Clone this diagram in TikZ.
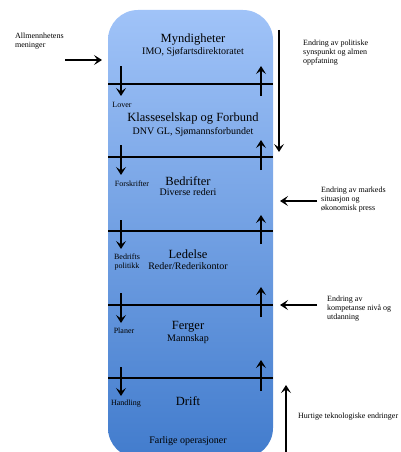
\documentclass[tikz,border=0pt]{standalone}
\usepackage{fontspec}
\setmainfont{Liberation Serif}
\usetikzlibrary{arrows.meta}
\definecolor{boxtop}{RGB}{160,195,248}
\definecolor{boxbot}{RGB}{66,124,205}
\tikzset{
  arr/.style={line width=2.2pt,-{Stealth[length=8pt,width=10pt,inset=3.5pt]}},
  sep/.style={line width=1.4pt},
  ttl/.style={font=\fontsize{12.5}{14}\selectfont,inner sep=0pt},
  sub/.style={font=\fontsize{10}{12}\selectfont,inner sep=0pt},
  lbl/.style={font=\fontsize{8}{9}\selectfont,inner sep=0pt,align=center},
  side/.style={font=\fontsize{8}{9}\selectfont,inner sep=0pt,align=left,anchor=west},
}
\begin{document}
\begin{tikzpicture}[x=1pt,y=-1pt]
\useasboundingbox (0,0) rectangle (400,452);
\clip (0,0) rectangle (400,452);
% panel
\node[draw=none,rounded corners=30pt,top color=boxtop,bottom color=boxbot,
      minimum width=165pt,minimum height=448pt,inner sep=0pt] (panel) at (190.5,234) {};
% separator lines
\foreach \n/\y in {1/84,2/157,3/231,4/305,5/378}{
  \coordinate (sl\n) at (108,\y);
  \coordinate (sr\n) at (273,\y);
  \draw[sep] (sl\n) -- (sr\n);
}
% down arrows (left)
\foreach \n/\a/\b in {1/66/96,2/145/175,3/220/249,4/293/323,5/367/396}{
  \coordinate (da\n) at (121,\a);
  \coordinate (db\n) at (121,\b);
  \draw[arr] (da\n) -- (db\n);
}
% up arrows (right)
\foreach \n/\a/\b in {1/96/66,2/170/140,3/244/215,4/317/287,5/391/360}{
  \coordinate (ua\n) at (261,\a);
  \coordinate (ub\n) at (261,\b);
  \draw[arr] (ua\n) -- (ub\n);
}
% level texts
\node[ttl] (t1) at (193,40) {Myndigheter};
\node[sub] (s1) at (193,52) {IMO, Sjøfartsdirektoratet};
\node[ttl] (t2) at (193,119) {Klasseselskap og Forbund};
\node[sub] (s2) at (193,132) {DNV GL, Sjømannsforbundet};
\node[ttl] (t3) at (188,181) {Bedrifter};
\node[sub] (s3) at (188,192) {Diverse rederi};
\node[ttl] (t4) at (188,254) {Ledelse};
\node[sub] (s4) at (188,266) {Reder/Rederikontor};
\node[ttl] (t5) at (188,327) {Ferger};
\node[sub] (s5) at (188,339) {Mannskap};
\node[ttl] (t6) at (188,401) {Drift};
\node[sub] (s6) at (188,441) {Farlige operasjoner};
% left labels
\node[lbl] (l1) at (122,105) {Lover};
\node[lbl] (l2) at (132,184) {Forskrifter};
\node[lbl] (l3) at (127,262) {Bedrifts\\politikk};
\node[lbl] (l4) at (124,331) {Planer};
\node[lbl] (l5) at (126,404) {Handling};
% outside texts
\node[side] (allm) at (15,41.5) {Allmennhetens\\meninger};
\node[side] (pol) at (303,52.5) {Endring av politiske\\synspunkt og almen\\oppfatning};
\node[side] (mark) at (321,200) {Endring av markeds\\situasjon og\\økonomisk press};
\node[side] (komp) at (327,309) {Endring av\\kompetanse nivå og\\utdanning};
\node[side] (tek) at (298,417) {Hurtige teknologiske endringer};
% outside arrows
\coordinate (aA) at (65,60);   \coordinate (aB) at (102,60);
\draw[arr] (aA) -- (aB);
\coordinate (pA) at (279,30);  \coordinate (pB) at (279,152);
\draw[arr] (pA) -- (pB);
\coordinate (mA) at (317,201); \coordinate (mB) at (280,201);
\draw[arr] (mA) -- (mB);
\coordinate (kA) at (317,305); \coordinate (kB) at (280,305);
\draw[arr] (kA) -- (kB);
\coordinate (hA) at (286,456); \coordinate (hB) at (286,385);
\draw[arr] (hA) -- (hB);
\end{tikzpicture}
\end{document}
